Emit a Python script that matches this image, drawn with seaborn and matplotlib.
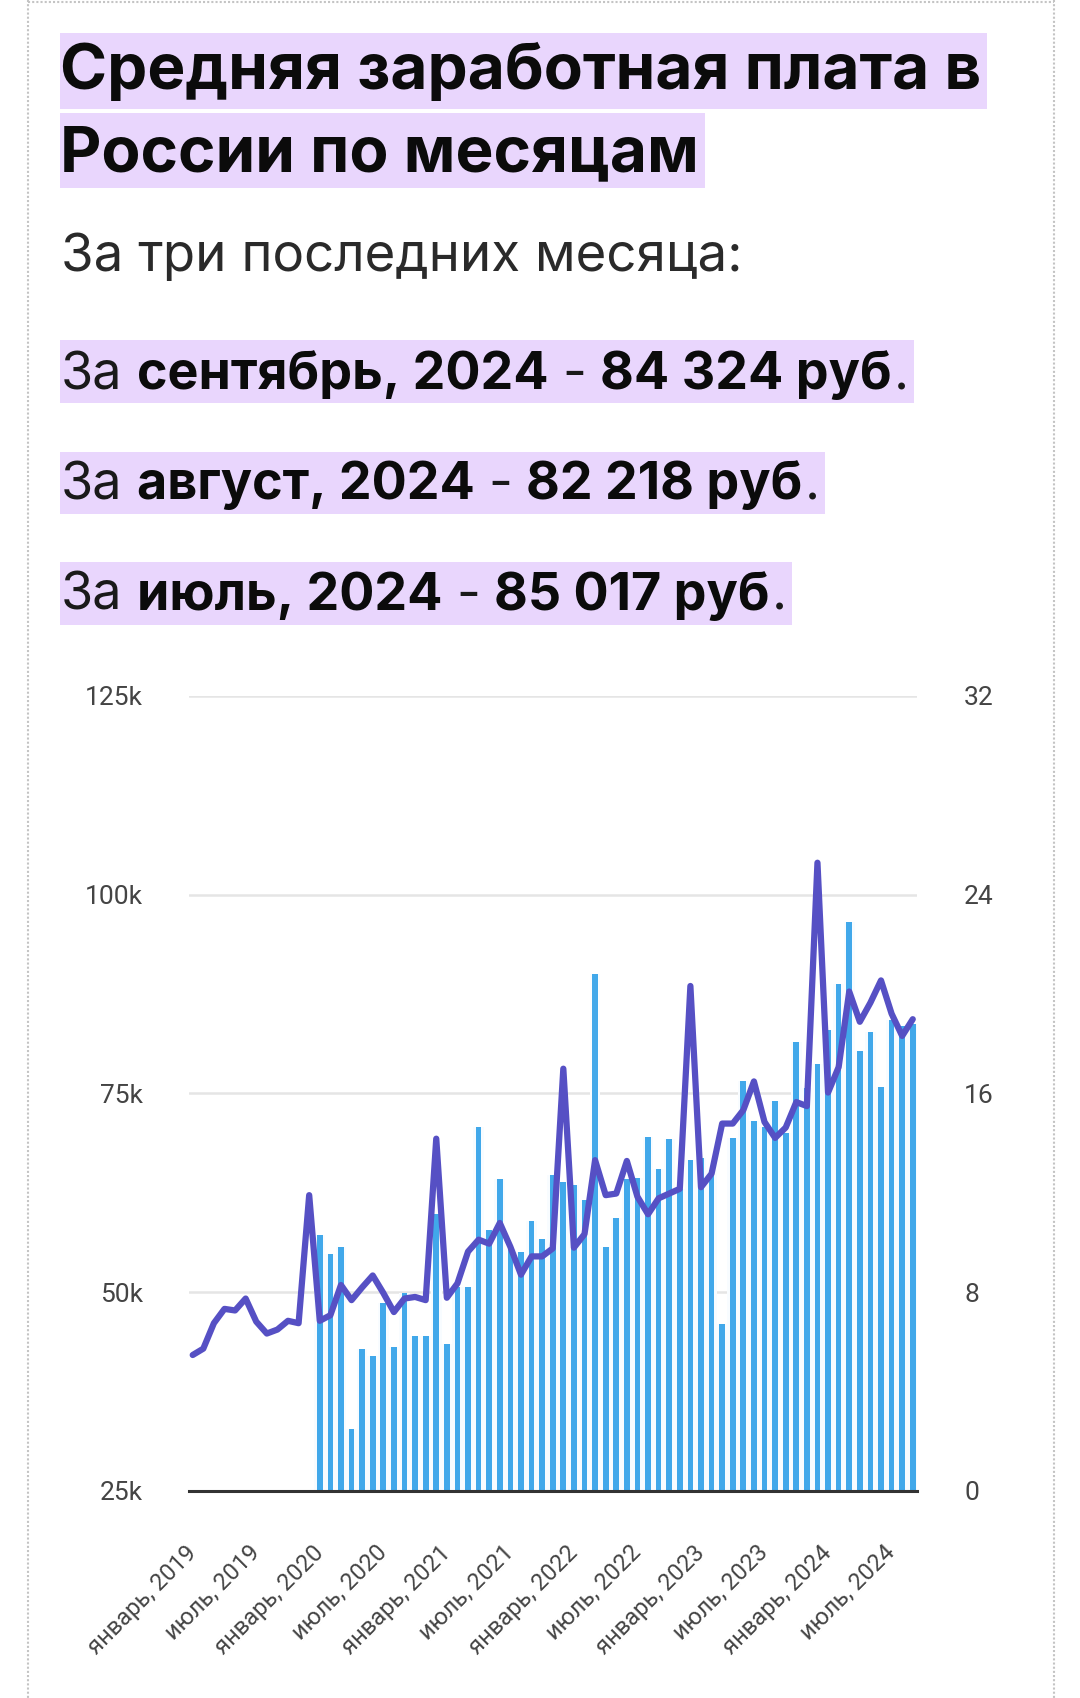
import matplotlib
matplotlib.use('Agg')
import matplotlib.pyplot as plt
import matplotlib.patches as mpatches
import matplotlib.transforms as mtransforms
from matplotlib.lines import Line2D
import pandas as pd
import seaborn as sns

# Average salary, rub, January 2019 - September 2024 (left axis, line)
salary = [
    42100, 42900, 46100, 47900, 47700, 49200, 46300, 44800, 45300, 46400, 46100, 62200,
    46400, 47100, 50900, 49000, 50600, 52100, 49900, 47500, 49200, 49400, 49000, 69300,
    49300, 51100, 55100, 56600, 56100, 58700, 55700, 52200, 54500, 54500, 55500, 78100,
    55600, 57300, 66600, 62200, 62400, 66500, 62000, 59800, 61800, 62400, 63000, 88500,
    63200, 64900, 71200, 71200, 72900, 76500, 71400, 69400, 70700, 73900, 73400, 104000,
    75100, 78300, 87800, 84000, 86400, 89200, 85017, 82218, 84324,
]

# Second series, January 2020 - September 2024 (right axis, bars)
growth = [
    10.3, 9.55, 9.8, 2.5, 5.7, 5.45, 7.55, 5.8, 7.95, 6.25, 6.25, 11.15,
    5.9, 8.2, 8.2, 14.65, 10.5, 12.55, 9.75, 9.6, 10.85, 10.15, 12.7, 12.45,
    12.3, 11.7, 20.8, 9.8, 11.0, 12.55, 12.6, 14.25, 12.95, 14.15, 12.15, 13.3,
    13.4, 12.9, 6.7, 14.2, 16.5, 14.9, 14.65, 15.7, 14.4, 18.05, 16.2, 17.2,
    18.55, 20.4, 22.9, 17.7, 18.45, 16.25, 18.95, 18.7, 18.8,
]

tick_labels = [
    'январь, 2019', 'июль, 2019', 'январь, 2020', 'июль, 2020',
    'январь, 2021', 'июль, 2021', 'январь, 2022', 'июль, 2022',
    'январь, 2023', 'июль, 2023', 'январь, 2024', 'июль, 2024',
]

left_ticks = [25000, 50000, 75000, 100000, 125000]
left_labels = ['25k', '50k', '75k', '100k', '125k']
right_ticks = [0, 8, 16, 24, 32]

title_lines = ['Средняя заработная плата в', 'России по месяцам']
subtitle = 'За три последних месяца:'
last_months = ['сентябрь, 2024', 'август, 2024', 'июль, 2024']
last_values = ['84 324', '82 218', '85 017']

months = pd.period_range('2019-01', periods=len(salary), freq='M')
df_line = pd.DataFrame({'i': range(len(salary)), 'month': months, 'salary': salary})
start = list(months).index(pd.Period('2020-01', freq='M'))
df_bar = pd.DataFrame({'i': range(start, start + len(growth)), 'value': growth})
tick_pos = df_line.loc[df_line['month'].dt.month.isin([1, 7]), 'i'].tolist()

BLUE = '#41A8EA'
PURPLE = '#5650C4'
HILITE = '#E9D6FD'
FONT = ['Inter', 'Noto Sans', 'DejaVu Sans']
TICKFONT = ['Roboto', 'DejaVu Sans']

sns.set_style('white')
plt.rcParams['font.family'] = TICKFONT

W, H = 1080, 1698
fig = plt.figure(figsize=(W / 100, H / 100), dpi=100)
renderer = fig.canvas.get_renderer()


def fx(x):
    return x / W


def fy(y):
    return 1 - y / H


# dotted card border
for xs, ys in [([28, 28], [0, H]), ([1054, 1054], [0, H]), ([28, 1054], [2, 2])]:
    fig.add_artist(Line2D([fx(v) for v in xs], [fy(v) for v in ys],
                          transform=fig.transFigure, color='#C4C4C4',
                          lw=1.5, linestyle=(0, (1, 1))))


def put(x, y, s, size, weight='normal', color='#111111'):
    return fig.text(fx(x), fy(y), s, fontsize=size, fontweight=weight,
                    color=color, family=FONT, ha='left', va='baseline', zorder=3)


def hilite(x0, x1, y0, y1):
    fig.add_artist(mpatches.Rectangle((fx(x0), fy(y1)), fx(x1 - x0), (y1 - y0) / H,
                                      transform=fig.transFigure, color=HILITE,
                                      lw=0, zorder=1))


# title
for line, base, (y0, y1) in zip(title_lines, [89, 171], [(33, 109), (113, 188)]):
    t = put(60, base, line, 46, 'bold', '#0B0B0B')
    bb = t.get_window_extent(renderer)
    hilite(60, bb.x1 + 6, y0, y1)

put(61, 271, subtitle, 38, 'normal', '#2A2A2A')

# last three months: (text, weight, space before)
size = 37.5
space = size * 100 / 72 * 0.27
for name, val, base, (y0, y1) in zip(last_months, last_values, [389, 499, 610],
                                     [(340, 403), (452, 514), (562, 625)]):
    parts = [('За', 'normal', 0), (name, 'bold', space), ('-', 'normal', space),
             (f'{val} руб', 'bold', space), ('.', 'normal', 2)]
    x = 61
    for s, w, gap in parts:
        t = put(x + gap, base, s, size, w, '#0B0B0B' if w == 'bold' else '#1A1A1A')
        x = t.get_window_extent(renderer).x1
    hilite(60, x + 5, y0, y1)

# chart
ax = fig.add_axes([fx(189), fy(1491), fx(917 - 189), (1491 - 695.7) / H])
sns.barplot(data=df_bar, x='i', y='value', native_scale=True, width=1.0,
            color='#F8FCFF', saturation=1, errorbar=None, ax=ax, linewidth=0)
sns.barplot(data=df_bar, x='i', y='value', native_scale=True, width=0.54,
            color=BLUE, saturation=1, errorbar=None, ax=ax, linewidth=0)
ax.set_ylim(0, 32)
ax.set_yticks(right_ticks)
ax.set_yticklabels([str(v) for v in right_ticks])
ax.set_axisbelow(True)
ax.grid(axis='y', color='#E5E5E5', lw=1.8)
ax.grid(axis='x', visible=False)

ax2 = ax.twinx()
sns.lineplot(data=df_line, x='i', y='salary', ax=ax2, color=PURPLE, lw=4.5,
             solid_joinstyle='round', solid_capstyle='round')
ax2.set_ylim(25000, 125000)
ax2.set_yticks(left_ticks)
ax2.set_yticklabels(left_labels)
ax2.grid(False)

ax.yaxis.tick_right()
ax2.yaxis.tick_left()

ax.set_xlim(-0.35, 68.4)
ax.set_xticks(tick_pos)
ax.set_xticklabels(tick_labels, rotation=45, ha='right', va='center',
                   rotation_mode='anchor')
offset = mtransforms.ScaledTranslation(0.10, 0, fig.dpi_scale_trans)
for lab in ax.get_xticklabels():
    lab.set_transform(lab.get_transform() + offset)

for a in (ax, ax2):
    a.set_xlabel('')
    a.set_ylabel('')
    for s in a.spines.values():
        s.set_visible(False)
ax.spines['bottom'].set_visible(True)
ax.spines['bottom'].set_color('#333333')
ax.spines['bottom'].set_linewidth(2.2)

ax.tick_params(axis='x', length=0, pad=42, labelsize=17, labelcolor='#444444')
ax.tick_params(axis='y', length=0, pad=34, labelsize=19, labelcolor='#444444')
ax2.tick_params(axis='y', length=0, pad=33, labelsize=19, labelcolor='#444444')

fig.savefig('out.png', dpi=100, facecolor='white')
